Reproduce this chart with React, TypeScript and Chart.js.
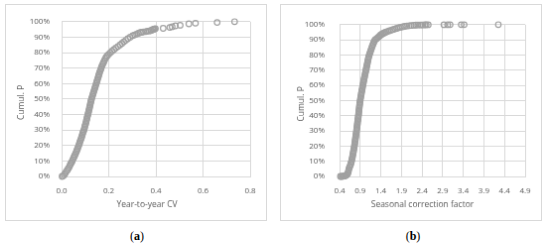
import React, { useEffect, useRef } from "react";
import { Chart, registerables } from "chart.js";

Chart.register(...registerables);

// Panel (a): year-to-year CV vs cumulative probability (%)
const cvX = [
  0.002, 0.006, 0.011, 0.015, 0.019, 0.024, 0.028, 0.032, 0.035, 0.038, 0.042,
  0.045, 0.048, 0.051, 0.054, 0.057, 0.06, 0.063, 0.065, 0.068, 0.07,
  0.073, 0.075, 0.077, 0.079, 0.082, 0.084, 0.086, 0.088, 0.09, 0.092,
  0.095, 0.097, 0.098, 0.1, 0.102, 0.104, 0.105, 0.107, 0.108, 0.11,
  0.112, 0.113, 0.115, 0.116, 0.118, 0.119, 0.121, 0.122, 0.124, 0.125,
  0.127, 0.129, 0.131, 0.133, 0.135, 0.137, 0.139, 0.141, 0.143, 0.145,
  0.147, 0.149, 0.151, 0.153, 0.155, 0.157, 0.159, 0.161, 0.163, 0.166,
  0.168, 0.17, 0.173, 0.176, 0.179, 0.182, 0.185, 0.189, 0.194, 0.2,
  0.207, 0.214, 0.222, 0.23, 0.239, 0.248, 0.256, 0.264, 0.272, 0.281,
  0.291, 0.302, 0.31, 0.318, 0.326, 0.334, 0.34, 0.347, 0.357, 0.365,
  0.372, 0.378, 0.382, 0.387, 0.391, 0.394, 0.398, 0.431, 0.459, 0.469,
  0.483, 0.503, 0.54, 0.568, 0.66, 0.734,
];
const cvP = [
  0, 0.3, 1, 2, 3, 4, 5, 6, 7, 8, 9,
  10, 11, 12, 13, 14, 15, 16, 17, 18, 19,
  20, 21, 22, 23, 24, 25, 26, 27, 28, 29,
  30, 31, 32, 33, 34, 35, 36, 37, 38, 39,
  40, 41, 42, 43, 44, 45, 46, 47, 48, 49,
  50, 51, 52, 53, 54, 55, 56, 57, 58, 59,
  60, 61, 62, 63, 64, 65, 66, 67, 68, 69,
  70, 71, 72, 73, 74, 75, 76, 77, 78, 79,
  80, 81, 82, 83, 84, 85, 86, 87, 88, 89,
  90, 91, 91.5, 92, 92.5, 93, 93.2, 93.4, 93.6, 93.9,
  94.0, 94.2, 94.5, 94.9, 95.0, 95.3, 95.5, 95.7, 96.3, 96.7,
  97.3, 97.7, 98.6, 99.0, 99.5, 100,
];

// Panel (b): seasonal correction factor vs cumulative probability (%)
const scfX = [
  0.42, 0.44, 0.46, 0.48, 0.5, 0.52, 0.54, 0.56, 0.58, 0.6, 0.61, 0.62,
  0.625, 0.64, 0.655, 0.67, 0.68, 0.69, 0.698, 0.706, 0.714, 0.72,
  0.727, 0.734, 0.74, 0.746, 0.753, 0.76, 0.765, 0.77, 0.775, 0.78,
  0.785, 0.79, 0.795, 0.8, 0.805, 0.81, 0.815, 0.82, 0.824, 0.829,
  0.833, 0.838, 0.843, 0.848, 0.852, 0.857, 0.861, 0.865, 0.869, 0.873,
  0.877, 0.881, 0.885, 0.89, 0.895, 0.9, 0.906, 0.912, 0.918, 0.925,
  0.931, 0.938, 0.944, 0.951, 0.958, 0.965, 0.972, 0.979, 0.986, 0.993,
  1.0, 1.008, 1.016, 1.024, 1.032, 1.04, 1.048, 1.055, 1.062, 1.07,
  1.078, 1.085, 1.092, 1.1, 1.11, 1.12, 1.132, 1.145, 1.157, 1.17,
  1.182, 1.195, 1.21, 1.225, 1.24, 1.26, 1.285, 1.31, 1.33, 1.35,
  1.37, 1.39, 1.415, 1.44, 1.47, 1.5, 1.53, 1.57, 1.61, 1.66,
  1.7, 1.745, 1.79, 1.835, 1.88, 1.93, 1.98, 2.03, 2.09, 2.14,
  2.2, 2.25, 2.3, 2.35, 2.39, 2.42, 2.47, 2.5, 2.55, 2.93,
  3.02, 3.08, 3.35, 3.42, 4.25,
];
const scfP = [
  0, 0, 0.05, 0.1, 0.2, 0.3, 0.5, 0.8, 1.2, 2, 3, 4,
  5, 6, 7, 8, 9, 10, 11, 12, 13, 14,
  15, 16, 17, 18, 19, 20, 21, 22, 23, 24,
  25, 26, 27, 28, 29, 30, 31, 32, 33, 34,
  35, 36, 37, 38, 39, 40, 41, 42, 43, 44,
  45, 46, 47, 48, 49, 50, 51, 52, 53, 54,
  55, 56, 57, 58, 59, 60, 61, 62, 63, 64,
  65, 66, 67, 68, 69, 70, 71, 72, 73, 74,
  75, 76, 77, 78, 79, 80, 81, 82, 83, 84,
  85, 86, 87, 88, 89, 90, 90.5, 91, 91.5, 92,
  92.5, 93, 93.5, 94, 94.4, 94.8, 95.2, 95.6, 96, 96.4,
  96.8, 97.2, 97.6, 98, 98.3, 98.6, 98.9, 99.1, 99.3, 99.45,
  99.6, 99.7, 99.75, 99.8, 99.82, 99.85, 99.88, 99.9, 99.92, 99.93,
  99.95, 99.96, 99.97, 99.98, 100,
];

const pTicks = [0, 10, 20, 30, 40, 50, 60, 70, 80, 90, 100];
const cvTicks = [0, 0.2, 0.4, 0.6, 0.8];
const scfTicks = [0.4, 0.9, 1.4, 1.9, 2.4, 2.9, 3.4, 3.9, 4.4, 4.9];

const FONT = "'Open Sans', 'Noto Sans', sans-serif";
const TEXT = "#595959";
const GRID = "#d9d9d9";
const MARK = "#a0a0a0";

type PanelProps = {
  left: number;
  xs: number[];
  ps: number[];
  xTicks: number[];
  xTitle: string;
  yAxisWidth: number;
  yTickPad: number;
  yTitleDx: number;
  xTitleDx: number;
};

function Panel(props: PanelProps) {
  const ref = useRef<HTMLCanvasElement | null>(null);
  useEffect(() => {
    if (!ref.current) return;
    const { xs, ps, xTicks, xTitle, yAxisWidth, yTickPad, yTitleDx, xTitleDx } = props;
    const titles = {
      id: "axisTitles",
      afterDraw(chart: any) {
        const { ctx, chartArea: a } = chart;
        ctx.save();
        ctx.fillStyle = TEXT;
        ctx.font = `8.5px ${FONT}`;
        ctx.textAlign = "center";
        ctx.textBaseline = "middle";
        ctx.fillText(xTitle, (a.left + a.right) / 2 + xTitleDx, a.bottom + 29);
        ctx.translate(a.left - yTitleDx, (a.top + a.bottom) / 2 + 3.5);
        ctx.rotate(-Math.PI / 2);
        ctx.fillText("Cumul. P", 0, 0);
        ctx.restore();
      },
    };
    const chart = new Chart(ref.current, {
      type: "scatter",
      data: {
        datasets: [
          {
            data: xs.map((x, i) => ({ x, y: ps[i] })),
            pointStyle: "circle",
            pointRadius: 2.8,
            pointBorderWidth: 1.2,
            pointBorderColor: MARK,
            pointBackgroundColor: "rgba(0,0,0,0)",
            showLine: false,
            clip: false as any,
          },
        ],
      },
      options: {
        responsive: false,
        animation: false,
        devicePixelRatio: 1,
        layout: { padding: { left: 0, right: 16, top: 11, bottom: 0 } },
        plugins: { legend: { display: false }, tooltip: { enabled: false } },
        scales: {
          x: {
            type: "linear",
            min: xTicks[0],
            max: xTicks[xTicks.length - 1],
            afterBuildTicks: (s: any) => {
              s.ticks = xTicks.map((v) => ({ value: v }));
            },
            afterFit: (s: any) => {
              s.height = 44;
            },
            ticks: {
              callback: (v: any) => Number(v).toFixed(1),
              font: { family: FONT, size: 8 },
              color: TEXT,
              padding: 10,
              maxRotation: 0,
              autoSkip: false,
            },
            grid: { color: GRID, drawTicks: false },
            border: { color: GRID },
          },
          y: {
            min: 0,
            max: 100,
            afterBuildTicks: (s: any) => {
              s.ticks = pTicks.map((v) => ({ value: v }));
            },
            afterFit: (s: any) => {
              s.width = yAxisWidth;
            },
            ticks: {
              callback: (v: any) => `${v}%`,
              font: { family: FONT, size: 8 },
              color: TEXT,
              padding: yTickPad,
              autoSkip: false,
            },
            grid: { color: GRID, drawTicks: false },
            border: { color: GRID },
          },
        },
      },
      plugins: [titles],
    } as any);
    return () => chart.destroy();
  }, []);
  return (
    <canvas
      ref={ref}
      width={262}
      height={217}
      style={{
        position: "absolute",
        left: props.left,
        top: 4,
        border: `1px solid ${GRID}`,
        width: 262,
        height: 217,
      }}
    />
  );
}

const labelStyle: React.CSSProperties = {
  position: "absolute",
  top: 229,
  width: 40,
  textAlign: "center",
  fontFamily: "'Liberation Serif', 'Times New Roman', serif",
  fontSize: 12,
  lineHeight: "14px",
  color: "#000",
};

export default function App() {
  return (
    <div
      style={{
        position: "absolute",
        left: 0,
        top: 0,
        width: 550,
        height: 247,
        background: "#fff",
        overflow: "hidden",
      }}
    >
      <Panel
        left={5}
        xs={cvX}
        ps={cvP}
        xTicks={cvTicks}
        xTitle="Year-to-year CV"
        yAxisWidth={56}
        yTickPad={12}
        yTitleDx={40}
        xTitleDx={-9}
      />
      <Panel
        left={280}
        xs={scfX}
        ps={scfP}
        xTicks={scfTicks}
        xTitle="Seasonal correction factor"
        yAxisWidth={59}
        yTickPad={15}
        yTitleDx={38}
        xTitleDx={-10}
      />
      <div style={{ ...labelStyle, left: 117 }}>
        (<b>a</b>)
      </div>
      <div style={{ ...labelStyle, left: 393 }}>
        (<b>b</b>)
      </div>
    </div>
  );
}
